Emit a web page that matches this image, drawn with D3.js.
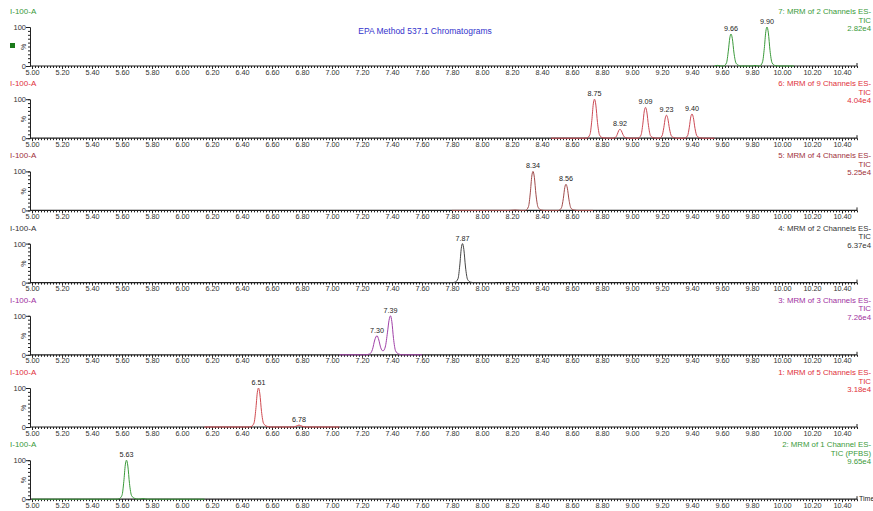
<!DOCTYPE html>
<html>
<head>
<meta charset="utf-8">
<script src="https://cdn.jsdelivr.net/npm/d3@7"></script>
<style>
  body { margin: 0; background: #fff; }
  svg { display: block; }
  text { font-family: "Liberation Sans Narrow", "Arial Narrow", "Liberation Sans", Arial, sans-serif; }
</style>
</head>
<body>
<div class="chromatogram"></div>
<script>
const W = 873;
const H = 511;

// x ticks (retention time, min)
const tickLabels = ["5.00","5.20","5.40","5.60","5.80","6.00","6.20","6.40","6.60","6.80","7.00","7.20","7.40","7.60","7.80","8.00","8.20","8.40","8.60","8.80","9.00","9.20","9.40","9.60","9.80","10.00","10.20","10.40"];

// panel headers, top to bottom
const channelNames = ["7: MRM of 2 Channels ES-", "6: MRM of 9 Channels ES-", "5: MRM of 4 Channels ES-", "4: MRM of 2 Channels ES-", "3: MRM of 3 Channels ES-", "1: MRM of 5 Channels ES-", "2: MRM of 1 Channel ES-"];
const ticLabels = ["TIC", "TIC", "TIC", "TIC", "TIC", "TIC", "TIC (PFBS)"];
const intensities = ["2.82e4", "4.04e4", "5.25e4", "6.37e4", "7.26e4", "3.18e4", "9.65e4"];
const colors = ["#3a9a3a", "#e0303a", "#a0303a", "#333333", "#a030a0", "#e0303a", "#3a9a3a"];
const traceColors = ["#3a9a3a", "#cc4a55", "#a04a4a", "#444444", "#a040a8", "#d04a50", "#3a9a3a"];

// traces: [time, % of max]
const trace7 = [[9.55,0],[9.57,1.5],[9.59,0],[9.61,0],[9.63,8],[9.642,38],[9.652,72],[9.66,82],[9.669,70],[9.68,33],[9.694,7],[9.715,1],[9.73,0],[9.80,0],[9.82,1.5],[9.84,0],[9.85,0],[9.87,10],[9.882,45],[9.892,88],[9.90,100],[9.909,85],[9.92,40],[9.934,8],[9.955,1],[9.98,0],[10.08,0]];
const trace6 = [[8.46,0],[8.68,0],[8.70,0.5],[8.72,10],[8.732,45],[8.742,88],[8.75,100],[8.759,85],[8.77,40],[8.784,8],[8.805,1],[8.87,0],[8.89,2],[8.902,10],[8.912,20],[8.92,23],[8.929,19],[8.94,9],[8.954,2],[8.98,0],[9.04,0],[9.06,8],[9.072,36],[9.082,70],[9.09,79],[9.099,67],[9.11,32],[9.124,6],[9.145,1],[9.17,0],[9.18,0],[9.20,6],[9.212,27],[9.222,52],[9.23,59],[9.239,50],[9.25,24],[9.264,5],[9.285,1],[9.30,0],[9.35,0],[9.37,6],[9.382,28],[9.392,55],[9.40,62],[9.409,53],[9.42,25],[9.434,5],[9.455,1],[9.48,0],[9.55,0]];
const trace5 = [[7.80,0],[8.18,0],[8.22,1],[8.26,0],[8.29,0],[8.31,10],[8.322,45],[8.332,88],[8.34,100],[8.349,85],[8.36,40],[8.374,8],[8.395,1],[8.42,0],[8.51,0],[8.53,7],[8.542,30],[8.552,59],[8.56,67],[8.569,57],[8.58,27],[8.594,5],[8.615,1],[8.64,0],[8.74,0]];
const trace4 = [[7.60,0],[7.80,0],[7.82,1],[7.84,10],[7.852,45],[7.862,88],[7.87,100],[7.879,85],[7.89,40],[7.904,8],[7.925,1],[7.95,0],[8.09,0]];
const trace3 = [[7.05,0],[7.22,0],[7.25,2],[7.27,14],[7.285,38],[7.30,49],[7.312,38],[7.325,18],[7.34,10],[7.355,20],[7.37,58],[7.38,88],[7.39,100],[7.399,85],[7.41,42],[7.424,10],[7.445,2],[7.47,0],[7.60,0]];
const trace1 = [[6.15,0],[6.44,0],[6.46,1],[6.48,10],[6.492,45],[6.502,88],[6.51,100],[6.519,85],[6.53,40],[6.544,9],[6.565,2],[6.59,0],[6.74,0],[6.76,2],[6.78,5],[6.80,2],[6.83,0],[7.05,0]];
const trace2 = [[5.00,0],[5.56,0],[5.58,1],[5.60,10],[5.612,45],[5.622,88],[5.63,100],[5.639,85],[5.65,40],[5.664,9],[5.685,2],[5.71,0],[5.74,1.5],[5.77,0],[6.15,0]];
const traces = [trace7, trace6, trace5, trace4, trace3, trace1, trace2];

// labelled peaks: [time, % of max]
const peaks7 = [[9.66,82],[9.90,100]];
const peaks6 = [[8.75,100],[8.92,23],[9.09,79],[9.23,59],[9.40,62]];
const peaks5 = [[8.34,100],[8.56,67]];
const peaks4 = [[7.87,100]];
const peaks3 = [[7.30,49],[7.39,100]];
const peaks1 = [[6.51,100],[6.78,5]];
const peaks2 = [[5.63,100]];
const peaks = [peaks7, peaks6, peaks5, peaks4, peaks3, peaks1, peaks2];

const svg = d3.select(".chromatogram")
    .append("svg")
    .attr("width", W)
    .attr("height", H);

const x = d3.scaleLinear().domain([5.0, 10.5]).range([32, 857]);
const step = 72.2;

svg.append("text")
    .attr("x", 425)
    .attr("y", 34)
    .attr("text-anchor", "middle")
    .attr("font-size", 8.5)
    .attr("fill", "#3333cc")
    .text("EPA Method 537.1 Chromatograms");

// little marker at far left of the top panel
svg.append("rect")
    .attr("x", 10).attr("y", 43).attr("width", 5).attr("height", 5)
    .attr("fill", "#1a7a1a");

traces.forEach(function(tr, i) {
    const top = i * step;
    const y = d3.scaleLinear().domain([0, 100]).range([top + 66, top + 27]);
    const g = svg.append("g");

    g.append("text")
        .attr("x", 10).attr("y", top + 14)
        .attr("font-size", 8)
        .attr("fill", colors[i])
        .text("I-100-A");

    // right header
    [channelNames[i], ticLabels[i], intensities[i]].forEach(function(t, k) {
        g.append("text")
            .attr("x", 871)
            .attr("y", top + 14 + k * 8.5)
            .attr("text-anchor", "end")
            .attr("font-size", 7.8)
            .attr("fill", colors[i])
            .text(t);
    });

    // y axis
    const yAxis = d3.axisLeft(y)
        .tickValues(d3.range(0, 101, 10))
        .tickSize(2)
        .tickFormat(function(d) { return (d === 0 || d === 100) ? d : ""; });
    const ya = g.append("g")
        .attr("transform", "translate(30,0)")
        .call(yAxis);
    ya.select(".domain").attr("stroke", "#222");
    ya.selectAll(".tick line").attr("stroke", "#222")
        .attr("x2", function(d) { return (d === 0 || d === 100) ? -4 : -2; });
    ya.selectAll(".tick text").attr("font-size", 7.5).attr("fill", "#333").attr("x", -4);
    g.append("text")
        .attr("transform", "translate(26," + (top + 47) + ") rotate(-90)")
        .attr("text-anchor", "middle")
        .attr("font-size", 7)
        .attr("fill", "#333")
        .text("%");

    // x axis: minor ticks every 0.02, labels every 0.2
    const xMinor = d3.axisBottom(x)
        .tickValues(d3.range(0, 276).map(function(k) { return 5.0 + k * 0.02; }))
        .tickSize(2)
        .tickFormat("");
    const xm = g.append("g")
        .attr("transform", "translate(0," + (top + 66) + ")")
        .call(xMinor);
    xm.select(".domain").remove();
    xm.selectAll(".tick line").attr("stroke", "#222");

    const xAxis = d3.axisBottom(x)
        .tickValues(tickLabels.map(Number))
        .tickSize(3)
        .tickPadding(0.5)
        .tickFormat(function(d, k) { return tickLabels[k]; });
    const xa = g.append("g")
        .attr("transform", "translate(0," + (top + 66) + ")")
        .call(xAxis);
    xa.select(".domain").remove();
    xa.selectAll(".tick line").attr("stroke", "#222");
    xa.selectAll(".tick text").attr("font-size", 7.3).attr("fill", "#333");

    g.append("line")
        .attr("x1", 30).attr("x2", 857)
        .attr("y1", top + 66).attr("y2", top + 66)
        .attr("stroke", "#222").attr("stroke-width", 1.2);
    g.append("line")
        .attr("x1", 857).attr("x2", 857)
        .attr("y1", top + 63).attr("y2", top + 66)
        .attr("stroke", "#222");

    // trace
    const line = d3.line()
        .x(function(d) { return x(d[0]); })
        .y(function(d) { return y(d[1]); })
        .curve(d3.curveMonotoneX);
    g.append("path")
        .datum(tr)
        .attr("d", line)
        .attr("fill", "none")
        .attr("stroke", traceColors[i])
        .attr("stroke-width", 1);

    // peak labels
    g.selectAll(".pk")
        .data(peaks[i])
        .enter()
        .append("text")
        .attr("class", "pk")
        .attr("x", function(d) { return x(d[0]); })
        .attr("y", function(d) { return y(d[1]) - 3; })
        .attr("text-anchor", "middle")
        .attr("font-size", 7.2)
        .attr("fill", "#222")
        .text(function(d) { return d[0].toFixed(2); });
});

svg.append("text")
    .attr("x", 859).attr("y", 6 * step + 68)
    .attr("font-size", 7)
    .attr("fill", "#222")
    .text("Time");
</script>
</body>
</html>
